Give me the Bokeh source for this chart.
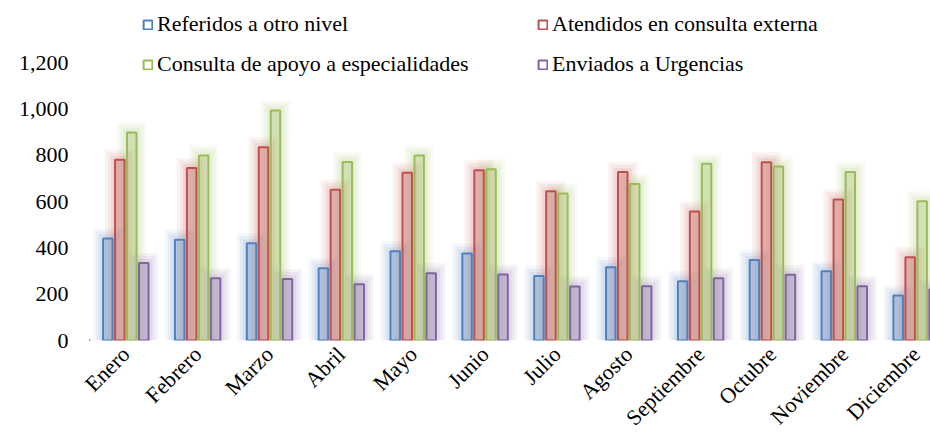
import math
from bokeh.plotting import figure
from bokeh.models import Range1d, FixedTicker, NumeralTickFormatter, Legend, LegendItem
from bokeh.embed import file_html
from bokeh.resources import INLINE

months = ["Enero", "Febrero", "Marzo", "Abril", "Mayo", "Junio", "Julio", "Agosto",
          "Septiembre", "Octubre", "Noviembre", "Diciembre"]
series_names = ["Referidos a otro nivel", "Atendidos en consulta externa",
                "Consulta de apoyo a especialidades", "Enviados a Urgencias"]
referidos = [441, 435, 420, 312, 386, 376, 279, 316, 256, 348, 299, 194]
atendidos = [781, 745, 835, 651, 725, 735, 645, 728, 557, 770, 609, 360]
consulta = [899, 799, 993, 771, 799, 740, 635, 676, 764, 752, 728, 601]
enviados = [335, 269, 266, 243, 291, 285, 233, 234, 269, 284, 234, 220]
y_ticks = [0, 200, 400, 600, 800, 1000, 1200]

colors = ["#4f81bd", "#c0504d", "#9bbb59", "#8064a2"]
values = [referidos, atendidos, consulta, enviados]
offsets = [-0.25, -0.0833, 0.0833, 0.25]

FONT = "Liberation Serif"
W, H = 930, 443
LEFT = 89
BOTTOM = 103
px_per_unit = 71.85
frame_w = W - LEFT
x0 = -(125.3 - 89.0) / px_per_unit
px_per_val = 46.3 / 200.0
frame_h = H - BOTTOM
y_end = frame_h / px_per_val

p = figure(width=W, height=H, output_backend="svg", toolbar_location=None,
           x_range=Range1d(x0, x0 + frame_w / px_per_unit),
           y_range=Range1d(0, y_end),
           min_border_left=LEFT, min_border_right=0, min_border_top=0,
           min_border_bottom=BOTTOM)
p.outline_line_color = None
p.xgrid.visible = False
p.ygrid.visible = False
p.background_fill_color = "white"

idx = list(range(len(months)))
bar_w = 9.5 / px_per_unit

# soft glow layers behind the bars
for vals, col, off in zip(values, colors, offsets):
    xs = [i + off for i in idx]
    for k, a in [(10, 0.07), (7, 0.08), (4, 0.10)]:
        p.vbar(x=xs, top=[v + k / px_per_val for v in vals], bottom=0,
               width=bar_w + 2 * k / px_per_unit, fill_color=col, fill_alpha=a,
               line_color=None)

# bars
for vals, col, off in zip(values, colors, offsets):
    xs = [i + off for i in idx]
    p.vbar(x=xs, top=vals, bottom=0, width=bar_w, fill_color=col, fill_alpha=0.28,
           line_color=col, line_width=2)

# legend proxies (drawn outside the visible range)
proxies = []
for name, col in zip(series_names, colors):
    r = p.vbar(x=[-50], top=[1], width=0.1, fill_color="white", line_color=col, line_width=2)
    proxies.append(LegendItem(label=name, renderers=[r]))
items = [proxies[0], proxies[2], proxies[1], proxies[3]]

legend = Legend(items=items, ncols=2, location=(142 - LEFT, frame_h - 77),
                label_text_font=FONT, label_text_font_size="22px", label_text_color="black",
                glyph_width=11, glyph_height=11, label_standoff=4, label_height=26,
                label_width=366, spacing=14, padding=0, margin=0,
                border_line_color=None, background_fill_alpha=0)
p.add_layout(legend, "center")

p.xaxis.ticker = FixedTicker(ticks=idx)
p.xaxis.major_label_overrides = {i: m for i, m in enumerate(months)}
p.xaxis.major_label_orientation = math.pi / 4
p.xaxis.axis_line_color = None
p.xaxis.major_tick_line_color = None
p.xaxis.minor_tick_line_color = None
p.xaxis.major_label_standoff = 4
p.xaxis.major_label_text_font = FONT
p.xaxis.major_label_text_font_size = "22px"
p.xaxis.major_label_text_color = "black"

p.yaxis.ticker = FixedTicker(ticks=y_ticks)
p.yaxis.formatter = NumeralTickFormatter(format="0,0")
p.yaxis.axis_line_color = None
p.yaxis.major_tick_line_color = None
p.yaxis.minor_tick_line_color = None
p.yaxis.major_label_standoff = 15
p.yaxis.major_label_text_font = FONT
p.yaxis.major_label_text_font_size = "22px"
p.yaxis.major_label_text_color = "black"

open("out.html", "w").write(file_html(p, INLINE))
